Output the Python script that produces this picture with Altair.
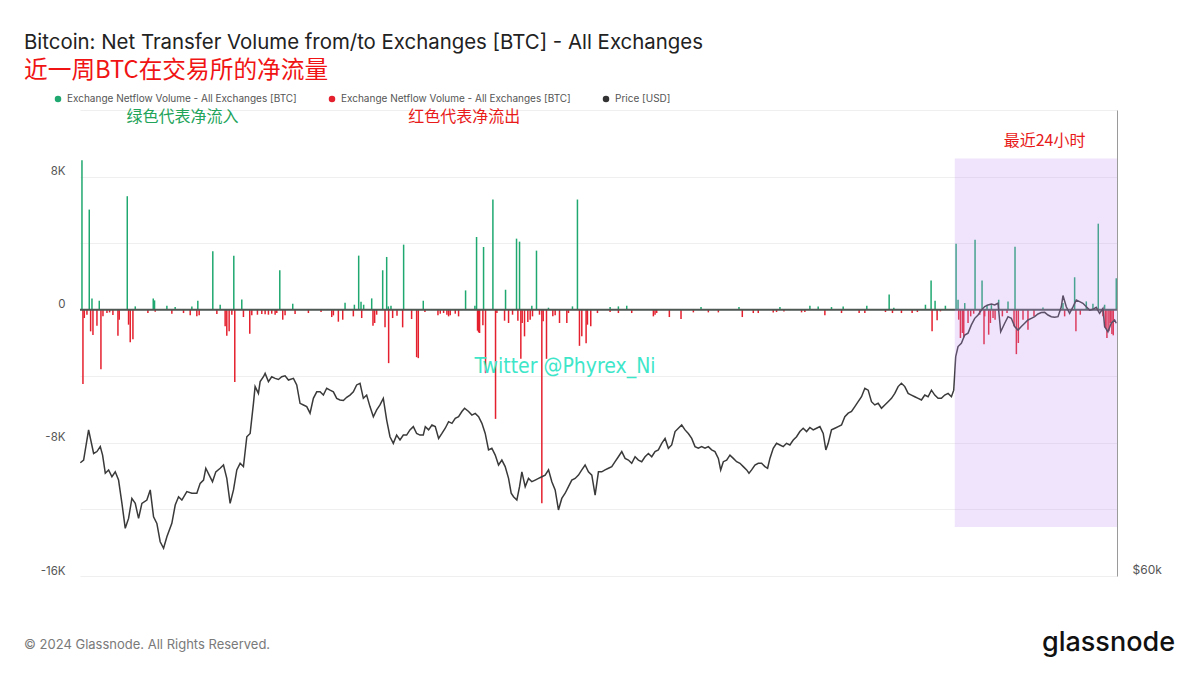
import altair as alt
import pandas as pd

# ---------------- data ----------------
# hours since 20 Mar 00:00 , net flow [BTC]
inflow = [(-8.08, 8980), (-6.89, 6015), (-6.45, 680), (-5.26, 540), (-0.70, 6820), (0.60, 200),
          (3.53, 680), (3.74, 560), (5.75, 240), (7.10, 160), (9.82, 200), (10.79, 540),
          (13.23, 3510), (14.43, 300), (16.65, 3250), (17.95, 620), (24.14, 2370), (26.25, 360),
          (34.77, 420), (36.29, 300), (36.99, 3250), (37.37, 480), (37.80, 300), (39.11, 680),
          (40.90, 2370), (41.55, 3170), (41.82, 200), (42.25, 240), (44.31, 3910), (47.51, 540),
          (54.40, 1160), (55.92, 240), (56.19, 4370), (57.33, 3770), (58.85, 6620), (60.91, 1200),
          (62.70, 4270), (63.19, 4090), (65.19, 240), (65.95, 3550), (67.90, 120), (71.81, 200),
          (72.62, 6620), (77.94, 160), (79.29, 200), (80.65, 240), (92.75, 160), (98.93, 160),
          (105.60, 160), (110.48, 240), (111.83, 200), (114.00, 160), (115.90, 200), (119.75, 240),
          (123.39, 920), (124.15, 120), (129.30, 300), (130.22, 1760), (130.87, 540), (132.55, 240),
          (134.29, 3970), (134.61, 600), (135.70, 400), (137.38, 4210), (138.52, 1760), (139.33, 300),
          (140.04, 280), (141.23, 600), (142.75, 500), (143.89, 3790), (148.44, 140), (151.70, 400),
          (153.60, 1950), (155.50, 500), (156.58, 360), (157.45, 5170), (158.48, 300), (160.38, 1890)]

outflow = [(-7.92, -4470), (-7.70, -500), (-7.27, -300), (-6.67, -1300), (-6.29, -1520), (-5.64, -960),
           (-4.99, -3570), (-4.66, -400), (-4.01, -200), (-3.58, -160), (-3.04, -320), (-2.22, -1560),
           (-2.01, -600), (-0.49, -900), (-0.22, -1950), (0.22, -1770), (2.66, -200), (3.85, -120),
           (6.56, -240), (8.46, -200), (9.55, -340), (10.63, -400), (11.01, -340), (13.89, -260),
           (15.24, -1000), (15.51, -1560), (15.89, -1300), (16.33, -300), (16.81, -4350), (18.22, -440),
           (19.25, -1440), (19.58, -340), (20.50, -300), (21.21, -260), (21.75, -280), (22.29, -300),
           (22.83, -240), (23.38, -300), (23.65, -200), (24.62, -600), (25.00, -340), (26.63, -260),
           (28.80, -200), (30.86, -140), (32.60, -440), (32.87, -340), (33.68, -720), (34.39, -600),
           (36.12, -400), (37.48, -500), (39.32, -960), (39.59, -800), (39.92, -300), (41.28, -1060),
           (41.87, -3210), (42.52, -500), (43.23, -360), (44.15, -1060), (45.61, -560), (46.43, -2850),
           (46.70, -2910), (47.78, -140),
           (49.90, -340), (50.28, -240), (50.82, -200), (51.36, -300), (51.63, -400), (51.90, -340),
           (52.72, -240), (53.26, -400), (56.35, -1260), (56.52, -1360), (56.68, -1400), (57.22, -940),
           (57.65, -3810), (59.28, -6560), (59.50, -200), (60.75, -660), (61.40, -800), (62.05, -300),
           (62.92, -660), (63.40, -2950), (63.62, -800), (64.00, -1600), (64.54, -740), (64.92, -600),
           (65.30, -400), (66.44, -300), (66.82, -11630), (67.04, -700), (67.58, -2950), (68.61, -400),
           (68.99, -340), (69.70, -800), (70.89, -800), (71.16, -200), (72.95, -2170), (73.33, -1600),
           (74.03, -2010), (74.25, -900), (74.79, -1000), (75.88, -200), (77.94, -140), (79.29, -200),
           (81.46, -200), (84.99, -400), (85.26, -300), (85.53, -200), (87.59, -440), (89.49, -560),
           (91.50, -160), (93.94, -160), (95.57, -160), (99.47, -440), (101.26, -200), (102.07, -200),
           (104.51, -160), (105.05, -140), (106.25, -100), (109.12, -160), (109.66, -140), (112.92, -340),
           (115.63, -200), (118.50, -200), (119.43, -200), (122.79, -140), (123.93, -200), (125.39, -200),
           (127.13, -200), (127.99, -140), (130.38, -1300), (131.20, -640), (131.74, -100), (134.72, -600),
           (135.00, -1700), (135.32, -1400), (135.54, -1660), (136.24, -800), (136.67, -400), (137.16, -240),
           (138.14, -300), (138.84, -2070), (138.95, -400), (139.60, -1500), (139.88, -800), (140.31, -500),
           (140.64, -600), (141.83, -400), (142.59, -200), (143.73, -1000), (144.11, -2670), (144.43, -2000),
           (145.19, -600), (146.00, -1200), (146.98, -400), (151.97, -400), (153.81, -1300), (154.52, -300),
           (158.21, -400), (158.59, -1100), (158.86, -1700), (159.18, -1300), (159.40, -800), (159.67, -1460),
           (159.89, -1540)]

# hours since 20 Mar 00:00 , BTC price [USD]
price = [(-8.35, 64130), (-7.81, 64230), (-7.00, 65330), (-6.18, 64470), (-5.64, 64540), (-5.10, 64720),
         (-4.72, 64410), (-4.28, 63750), (-3.74, 63870), (-3.20, 63620), (-2.66, 63800), (-2.12, 63500),
         (-1.57, 62650), (-1.03, 61740), (-0.49, 62100), (0.05, 62830), (0.60, 62650), (1.14, 62100),
         (1.68, 62650), (2.49, 62770), (3.04, 63140), (3.58, 62160), (4.12, 61920), (4.66, 61250),
         (5.21, 61010), (5.75, 61430), (6.56, 61920), (7.11, 62590), (7.65, 62890), (8.19, 62770),
         (9.00, 63080), (9.82, 63020), (10.63, 63020), (11.17, 63380), (11.72, 63500), (12.09, 63930),
         (12.64, 63680), (13.18, 63440), (13.72, 63800), (14.43, 63930), (14.97, 64050), (15.51, 63560),
         (16.05, 62650), (16.60, 63140), (17.14, 63870), (17.68, 64110), (18.22, 63990), (18.77, 65080),
         (19.31, 65200), (19.85, 66300), (20.12, 66910), (20.66, 66660), (20.94, 67090), (21.48, 67270),
         (21.75, 67390), (22.29, 67090), (22.83, 67270), (23.38, 67210), (23.92, 67170), (24.46, 67270),
         (25.00, 67300), (25.55, 67150), (26.36, 67210), (26.90, 66970), (27.44, 66300), (27.99, 66240),
         (28.53, 66180), (29.07, 65940), (29.61, 66480), (30.16, 66720), (30.70, 66720), (31.24, 66600),
         (31.78, 66850), (32.33, 66780), (32.87, 66720), (33.41, 66480), (33.95, 66420), (34.50, 66400),
         (35.04, 66520), (35.58, 66600), (36.12, 66720), (36.66, 66970), (37.21, 67030), (37.75, 66480),
         (38.29, 66600), (38.83, 66180), (39.38, 65810), (39.92, 66060), (40.46, 66240), (41.00, 66480),
         (41.55, 65690), (42.09, 65080), (42.63, 64840), (43.17, 65140), (43.72, 64960), (44.26, 65140),
         (44.80, 65140), (45.34, 65330), (45.89, 65450), (46.43, 65200), (46.97, 65140), (47.51, 65140),
         (47.84, 65450), (48.38, 65330), (48.92, 65510), (49.46, 65450), (50.01, 65020), (50.55, 65200),
         (51.09, 65390), (51.63, 65630), (52.18, 65570), (52.72, 65750), (53.26, 65810), (53.80, 66000),
         (54.24, 66120), (54.89, 66000), (55.43, 65870), (55.97, 65930), (56.52, 65810), (57.06, 65570),
         (57.60, 65200), (58.14, 64600), (58.68, 64660), (59.23, 64410), (59.77, 64050), (60.31, 64230),
         (60.85, 63990), (61.40, 63560), (61.83, 63020), (62.21, 62890), (62.75, 62770), (63.19, 63260),
         (63.57, 63800), (64.11, 63260), (64.65, 63560), (65.19, 63440), (65.74, 63500), (66.28, 63560),
         (66.82, 63620), (67.36, 63680), (67.91, 63870), (68.45, 63440), (68.99, 63140), (69.53, 62410),
         (70.07, 62830), (70.62, 63020), (71.16, 63260), (71.70, 63500), (72.24, 63560), (72.79, 63680),
         (73.33, 63870), (73.87, 64050), (74.41, 63800), (74.96, 63680), (75.50, 62950), (76.04, 63800),
         (76.58, 63800), (77.12, 63870), (77.67, 63930), (78.21, 63990), (78.75, 64170), (79.29, 64350),
         (79.84, 64540), (80.38, 64290), (80.92, 64230), (81.46, 64110), (82.01, 64350), (82.55, 64230),
         (83.09, 64170), (83.63, 64350), (84.18, 64470), (84.72, 64350), (85.26, 64540), (85.80, 64600),
         (86.35, 64840), (86.89, 65020), (87.43, 64660), (87.97, 64780), (88.52, 65270), (89.06, 65390),
         (89.60, 65510), (90.14, 65330), (90.68, 65200), (91.23, 65020), (91.77, 64720), (92.31, 64660),
         (92.85, 64720), (93.40, 64660), (93.94, 64720), (94.48, 64600), (95.02, 64540), (95.57, 64290),
         (95.95, 63870), (96.38, 64170), (96.92, 64230), (97.46, 64410), (98.01, 64290), (98.55, 64170),
         (99.09, 64110), (99.63, 63990), (100.18, 63870), (100.56, 63750), (100.99, 63870), (101.53, 64050),
         (102.07, 64110), (102.62, 64110), (103.16, 63990), (103.59, 63930), (103.97, 64290), (104.51, 64660),
         (105.05, 64840), (105.60, 64780), (106.14, 64720), (106.68, 64840), (107.22, 64780), (107.77, 64960),
         (108.31, 65080), (108.85, 65270), (109.39, 65390), (109.94, 65270), (110.48, 65420), (111.02, 65330),
         (111.56, 65390), (112.11, 65450), (112.65, 65200), (113.08, 64600), (113.46, 64840), (114.00, 65330),
         (114.55, 65390), (115.09, 65450), (115.63, 65510), (116.17, 65810), (116.72, 65940), (117.26, 66000),
         (117.80, 66180), (118.34, 66360), (118.89, 66540), (119.43, 66850), (119.97, 66780), (120.51, 66360),
         (121.05, 66240), (121.60, 66300), (122.14, 66120), (122.68, 66240), (123.22, 66360), (123.77, 66480),
         (124.31, 66660), (124.85, 66910), (125.39, 67030), (125.94, 66910), (126.48, 66660), (127.02, 66600),
         (127.56, 66540), (128.11, 66480), (128.65, 66420), (129.19, 66600), (129.73, 66540), (130.28, 66780),
         (130.82, 66600), (131.36, 66480), (131.90, 66480), (132.44, 66600), (132.99, 66660), (133.53, 66540),
         (133.91, 66780), (134.23, 68000), (134.61, 68370), (135.15, 68490), (135.70, 68790), (136.24, 68860),
         (136.78, 69160), (137.33, 69400), (137.87, 69520), (138.41, 69700), (138.95, 69830), (139.50, 69890),
         (140.04, 69920), (140.58, 69890), (141.12, 69950), (141.56, 68910), (142.21, 69220), (142.75, 69460),
         (143.29, 69400), (143.83, 69100), (144.38, 68970), (144.92, 69100), (145.46, 69220), (146.00, 69340),
         (146.55, 69400), (147.09, 69460), (147.63, 69560), (148.17, 69610), (148.72, 69620), (149.26, 69520),
         (149.80, 69460), (150.34, 69440), (150.89, 69460), (151.43, 69820), (151.70, 70230), (152.24, 69820),
         (152.78, 69580), (153.33, 69820), (153.87, 70070), (154.41, 70010), (154.95, 69950), (155.50, 69820),
         (156.04, 69700), (156.58, 69730), (157.12, 69800), (157.66, 69580), (158.21, 69760), (158.48, 69100),
         (159.02, 68910), (159.56, 69220), (160.11, 69340), (160.38, 69220)]

series_names = ["Exchange Netflow Volume - All Exchanges [BTC]",
                "Exchange Netflow Volume - All Exchanges [BTC] ",
                "Price [USD]"]
series_colors = ["#1fa870", "#e5202e", "#333333"]

x_ticks = [0, 12, 24, 36, 48, 60, 72, 84, 96, 108, 120, 132, 144, 156]
y_ticks = [-16000, -12000, -8000, -4000, 0, 4000, 8000, 12000]

# highlighted "last 24h" window (hours / BTC units)
hl_window = {"h0": [134.07], "h1": [160.5], "v0": [9080], "v1": [-13050]}

annotations_cn = [
    {"h": 8.3, "v": 11600, "t": "绿色代表净流入", "c": "#22a35a"},
    {"h": 54.2, "v": 11600, "t": "红色代表净流出", "c": "#e81a1a"},
    {"h": 148.7, "v": 10165, "t": "最近24小时", "c": "#e81a1a"},
]
watermark = {"h": [70.6], "v": [-3430], "t": ["Twitter @Phyrex_Ni"]}

# ---------------- chart ----------------
X_DOMAIN = [-8.4, 160.5]
Y_DOMAIN = [-16000, 12000]
P_DOMAIN = [60000, 77000]
W, H = 1037, 466

bars_df = pd.DataFrame(
    [{"h": h, "v": v, "c": series_colors[0]} for h, v in inflow]
    + [{"h": h, "v": v, "c": series_colors[1]} for h, v in outflow]
)
price_df = pd.DataFrame(price, columns=["h", "p"])

xscale = alt.Scale(domain=X_DOMAIN, nice=False, zero=False)
yscale = alt.Scale(domain=Y_DOMAIN, nice=False, zero=False)

x_axis = alt.Axis(
    values=x_ticks,
    labelExpr="datum.value % 24 == 0 ? (20 + datum.value / 24) + ' Mar' : '12:00'",
    grid=False, domainColor="#e2e2e2", tickColor="#e2e2e2", tickSize=6,
    labelFont="Inter", labelFontSize=12.5, labelColor="#555555", labelPadding=10,
    title=None, labelFlush=False,
)
x_enc = alt.X("h:Q", scale=xscale, axis=x_axis)
x_noaxis = alt.X("h:Q", scale=xscale, axis=None)

left_axis = alt.Axis(
    orient="left", values=y_ticks,
    labelExpr="datum.value % 8000 != 0 ? '' : (datum.value == 0 ? '0' : (datum.value / 1000) + 'K')",
    grid=True, gridColor="#efefef", gridWidth=1, domain=False, ticks=False,
    labelPadding=15, labelBaseline="bottom", labelFont="Inter", labelFontSize=11.5,
    labelColor="#555555", title=None,
)
right_axis = alt.Axis(
    orient="right", values=[60000], labelExpr="'$60k'", grid=False, ticks=False,
    domain=True, domainColor="#9a9a9a", domainWidth=1, labelPadding=15,
    labelBaseline="bottom", labelFont="Inter", labelFontSize=12, labelColor="#555555",
    labelAlign="left", title=None,
)

legend_layer = alt.Chart(pd.DataFrame({"h": [-60, -60, -60], "s": series_names})).mark_point(
    filled=True, clip=True, opacity=1
).encode(
    x=x_noaxis,
    y=alt.value(0),
    color=alt.Color(
        "s:N",
        scale=alt.Scale(domain=series_names, range=series_colors),
        legend=alt.Legend(
            orient="none", legendX=-27, legendY=-16, direction="horizontal", title=None,
            symbolType="circle", symbolSize=42, symbolStrokeWidth=0, labelFont="Inter",
            labelFontSize=10, labelColor="#555555", columnPadding=30, labelOffset=4,
            padding=0, labelLimit=0,
        ),
    ),
)

bars = alt.Chart(bars_df).mark_rule(strokeWidth=1.5).encode(
    x=x_enc,
    y=alt.Y("v:Q", scale=yscale, axis=left_axis),
    y2=alt.datum(0),
    color=alt.Color("c:N", scale=None),
)

zero_line = alt.Chart(pd.DataFrame({"v": [0]})).mark_rule(color="#4f5954", strokeWidth=2).encode(
    y=alt.Y("v:Q", scale=yscale, axis=None)
)

price_line = alt.Chart(price_df).mark_line(color="#3a3a3a", strokeWidth=1.5).encode(
    x=x_noaxis,
    y=alt.Y("p:Q", scale=alt.Scale(domain=P_DOMAIN, nice=False, zero=False), axis=right_axis),
)

highlight = alt.Chart(pd.DataFrame(hl_window)).mark_rect(color="#c393f3", opacity=0.25).encode(
    x=alt.X("h0:Q", scale=xscale, axis=None), x2="h1:Q",
    y=alt.Y("v0:Q", scale=yscale, axis=None), y2="v1:Q",
)

notes = alt.Chart(pd.DataFrame(annotations_cn)).mark_text(
    font="Noto Sans CJK SC", fontSize=16, align="center", baseline="middle"
).encode(
    x=x_noaxis,
    y=alt.Y("v:Q", scale=yscale, axis=None),
    text="t:N",
    color=alt.Color("c:N", scale=None),
)

wm = alt.Chart(pd.DataFrame(watermark)).mark_text(
    font="DejaVu Sans Condensed, Liberation Sans Narrow, Roboto, sans-serif",
    fontSize=21, align="center", baseline="middle", color="#3ee6c9",
).encode(
    x=x_noaxis,
    y=alt.Y("v:Q", scale=yscale, axis=None),
    text="t:N",
)

copyright_txt = alt.Chart(pd.DataFrame({"t": ["© 2024 Glassnode. All Rights Reserved."]})).mark_text(
    font="Inter", fontSize=13, align="left", baseline="middle", color="#7a7a7a"
).encode(x=alt.value(-56), y=alt.value(535), text="t:N")

logo_txt = alt.Chart(pd.DataFrame({"t": ["glassnode"]})).mark_text(
    font="Inter", fontSize=27, fontWeight=500, align="right", baseline="middle", color="#111111"
).encode(x=alt.value(1095), y=alt.value(533), text="t:N")

chart = alt.layer(
    legend_layer, bars, zero_line, price_line, highlight, notes, wm, copyright_txt, logo_txt
).resolve_scale(
    y="independent"
).properties(
    width=W, height=H,
    padding={"left": 72, "top": 102, "right": 75, "bottom": 91},
    autosize=alt.AutoSizeParams(type="none"),
    background="white",
    title=alt.TitleParams(
        text="Bitcoin: Net Transfer Volume from/to Exchanges [BTC] - All Exchanges",
        subtitle="近一周BTC在交易所的净流量",
        anchor="start", frame="group", dx=-56, offset=11,
        font="Inter", fontSize=20.4, fontWeight="normal", color="#222222",
        subtitleFont="Noto Sans CJK SC", subtitleFontSize=23.7, subtitleColor="#f01414",
        subtitlePadding=6,
    ),
).configure_view(stroke=None)

chart.save("out.html", embed_options={"renderer": "svg", "actions": False})
